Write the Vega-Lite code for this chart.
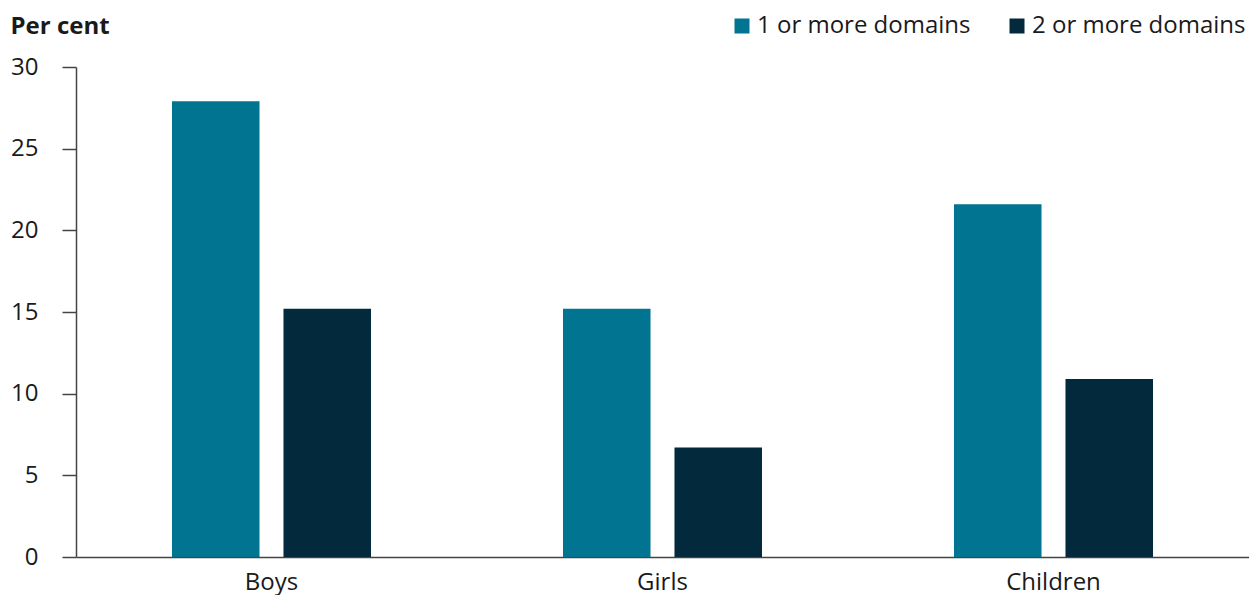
{
  "$schema": "https://vega.github.io/schema/vega-lite/v6.json",
  "width": 1173,
  "height": 490,
  "autosize": {"type": "none"},
  "padding": {"left": 76, "top": 67, "right": 0, "bottom": 38},
  "background": "white",
  "config": {
    "font": "Open Sans",
    "view": {"stroke": null}
  },
  "data": {
    "values": [
      {"group": "Boys", "series": "1 or more domains", "value": 27.9},
      {"group": "Boys", "series": "2 or more domains", "value": 15.2},
      {"group": "Girls", "series": "1 or more domains", "value": 15.2},
      {"group": "Girls", "series": "2 or more domains", "value": 6.7},
      {"group": "Children", "series": "1 or more domains", "value": 21.6},
      {"group": "Children", "series": "2 or more domains", "value": 10.9}
    ]
  },
  "mark": {"type": "bar"},
  "encoding": {
    "x": {
      "field": "group",
      "type": "nominal",
      "sort": ["Boys", "Girls", "Children"],
      "scale": {"paddingInner": 0.491, "paddingOuter": 0.2455},
      "axis": {
        "title": null,
        "labelAngle": 0,
        "labelFontSize": 24,
        "labelColor": "#1a1a1a",
        "labelPadding": 13,
        "ticks": false,
        "domainColor": "#444444",
        "domainWidth": 1.5
      }
    },
    "xOffset": {
      "field": "series",
      "type": "nominal",
      "scale": {"paddingInner": 0.215, "paddingOuter": 0}
    },
    "y": {
      "field": "value",
      "type": "quantitative",
      "scale": {"domain": [0, 30], "nice": false},
      "axis": {
        "values": [0, 5, 10, 15, 20, 25, 30],
        "grid": false,
        "title": "Per cent",
        "titleAngle": 0,
        "titleFontSize": 24,
        "titleFontWeight": "bold",
        "titleColor": "#1a1a1a",
        "titleAlign": "left",
        "titleBaseline": "alphabetic",
        "titleX": -66,
        "titleY": -34,
        "labelFontSize": 24,
        "labelColor": "#1a1a1a",
        "labelPadding": 24,
        "tickSize": 14,
        "tickColor": "#444444",
        "tickWidth": 1.5,
        "domainColor": "#444444",
        "domainWidth": 1.5
      }
    },
    "color": {
      "field": "series",
      "type": "nominal",
      "scale": {
        "domain": ["1 or more domains", "2 or more domains"],
        "range": ["#007491", "#03293C"]
      },
      "legend": {
        "title": null,
        "orient": "none",
        "direction": "horizontal",
        "legendX": 654,
        "legendY": -53,
        "symbolType": "square",
        "symbolSize": 225,
        "symbolStrokeWidth": 0,
        "labelFontSize": 24,
        "labelLimit": 400,
        "labelColor": "#1a1a1a",
        "labelOffset": 3,
        "columnPadding": 34
      }
    }
  }
}
